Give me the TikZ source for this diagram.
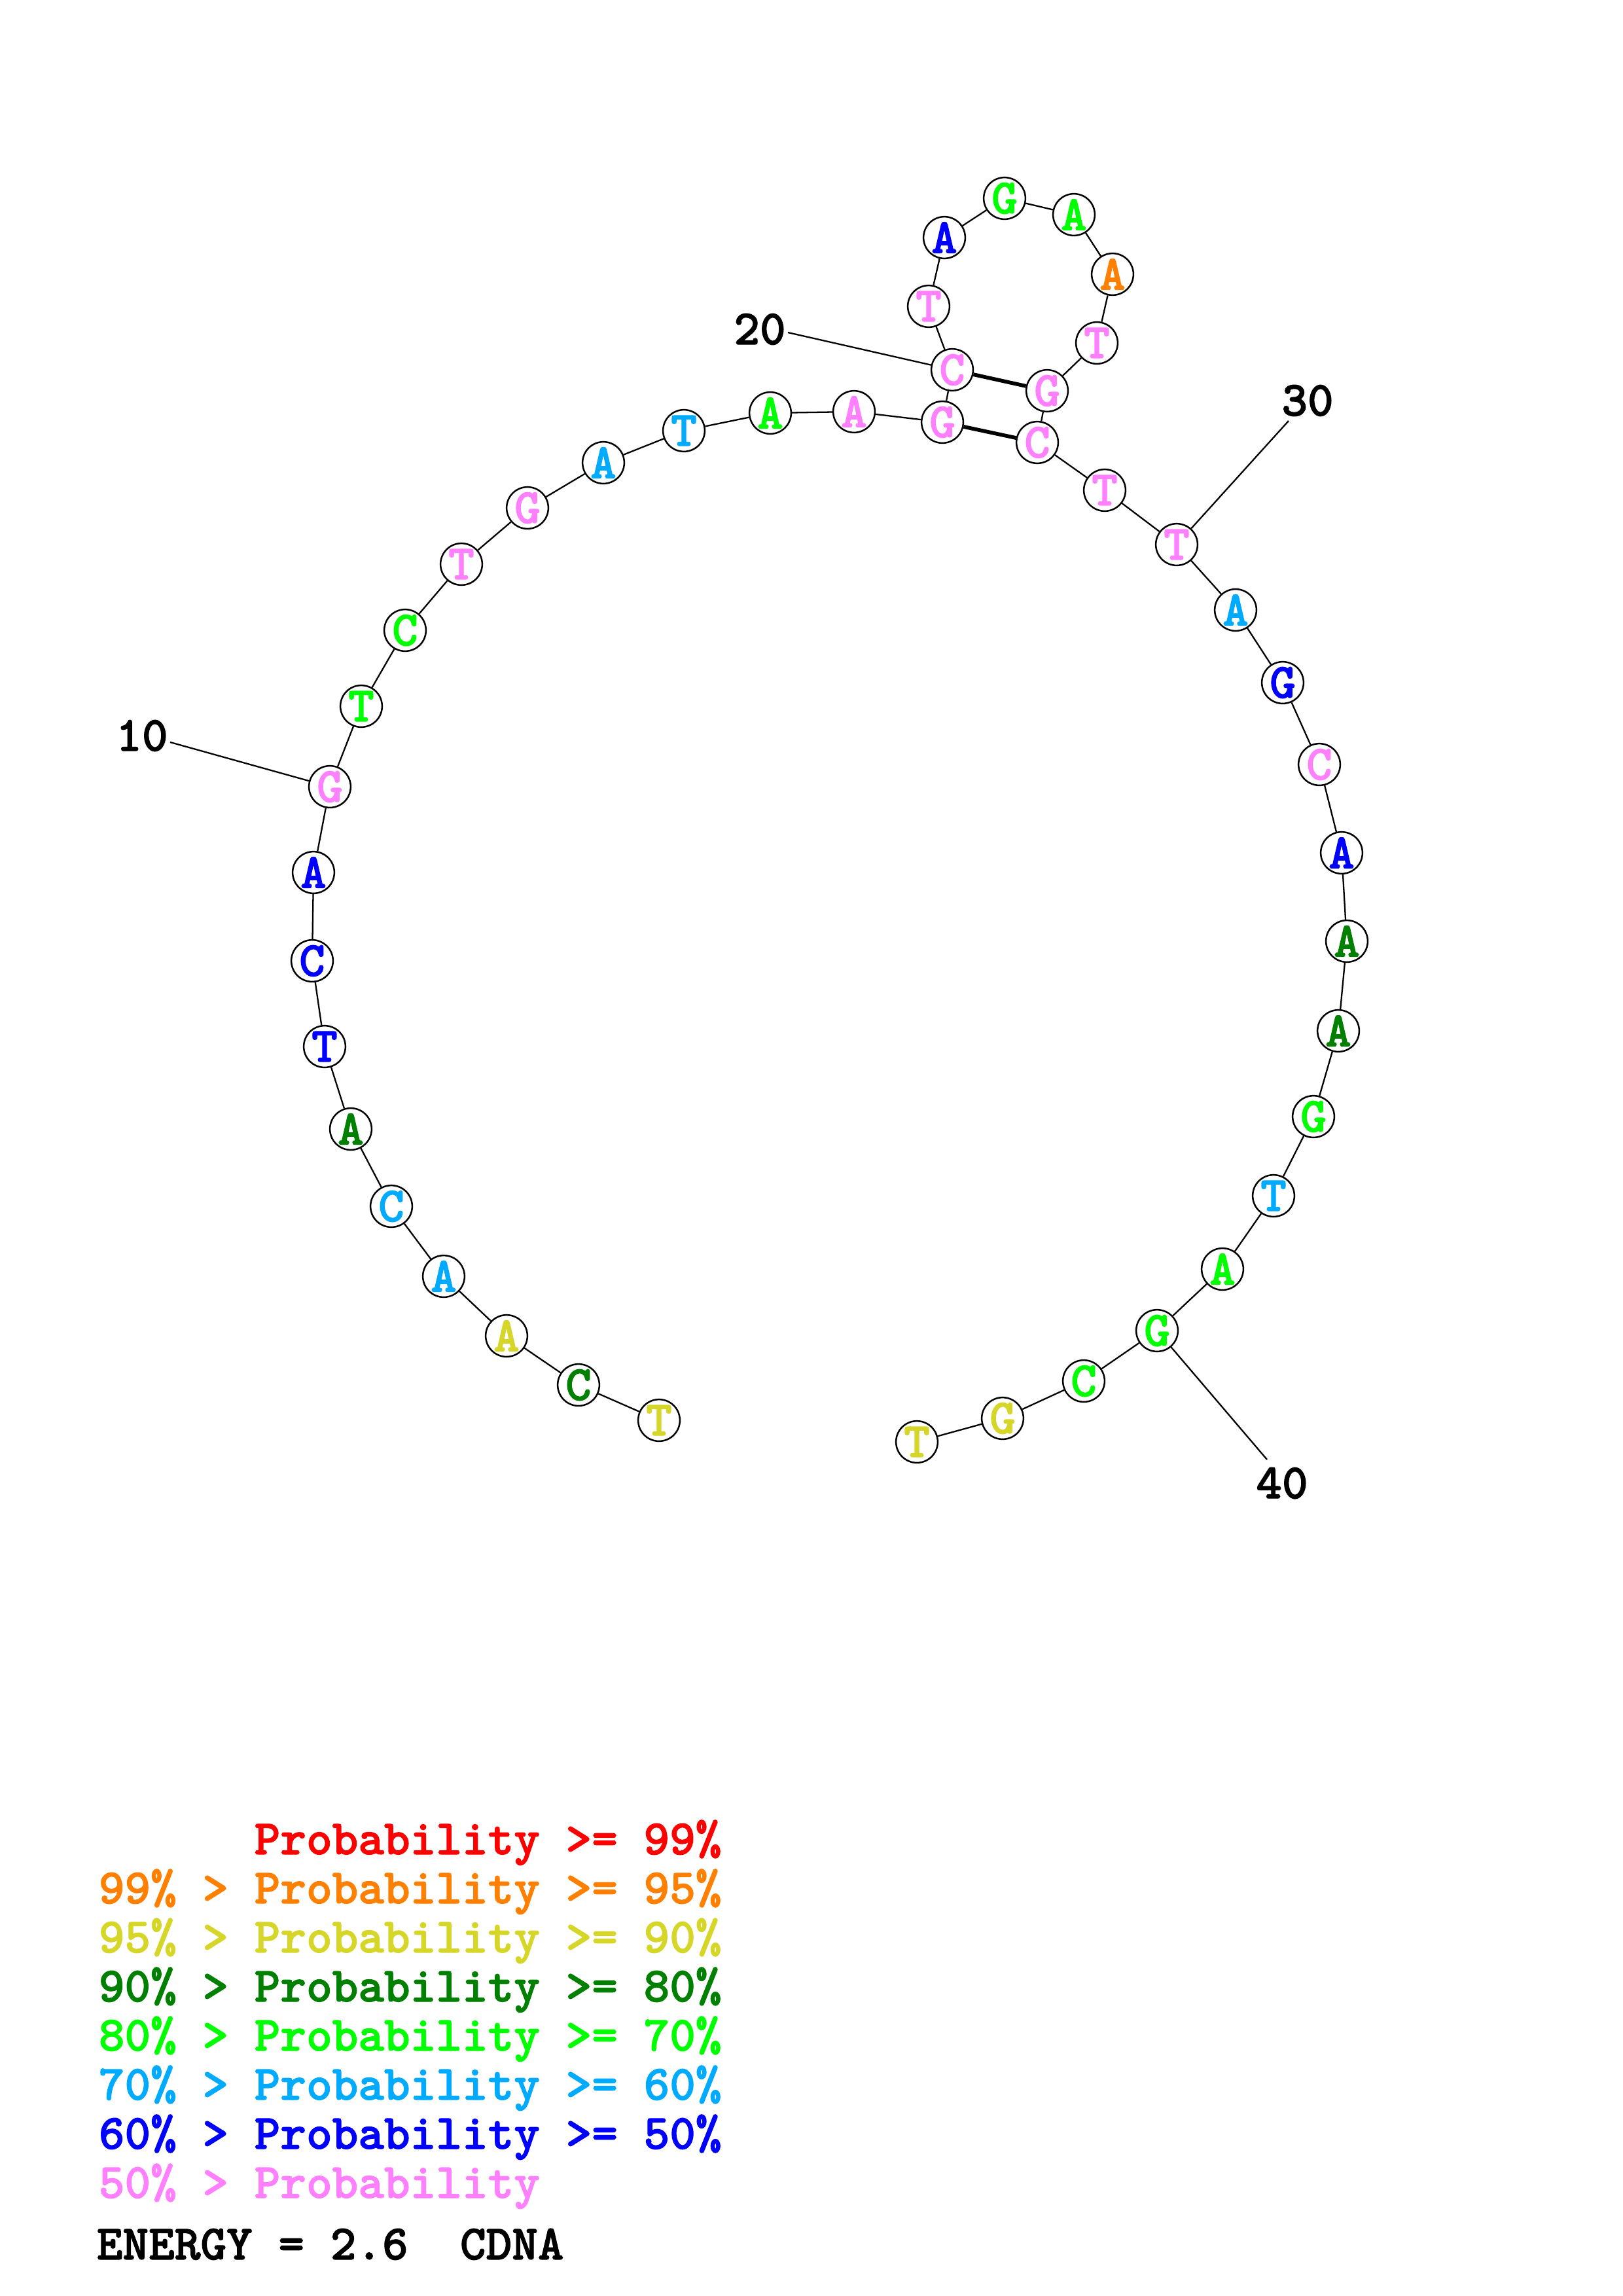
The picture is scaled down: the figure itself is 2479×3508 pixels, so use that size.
\documentclass[tikz,border=0pt]{standalone}
\usepackage{fontspec}
\newfontfamily\cour{lmmonolt10-bold}[Extension=.otf,FakeBold=1.5]
\definecolor{cred}{RGB}{255,0,0}
\definecolor{corange}{RGB}{255,128,0}
\definecolor{cyellow}{RGB}{214,214,41}
\definecolor{cdgreen}{RGB}{0,128,0}
\definecolor{cgreen}{RGB}{0,255,0}
\definecolor{clblue}{RGB}{0,170,255}
\definecolor{cblue}{RGB}{0,0,255}
\definecolor{cpink}{RGB}{255,128,255}
\begin{document}
\begin{tikzpicture}[x=0.008471cm,y=-0.008471cm,
  nt/.style={circle,draw=black,fill=white,line width=0.6pt,minimum size=0.54cm,inner sep=0pt,
    font=\cour\fontsize{18.2}{20}\selectfont},
  bb/.style={line width=0.55pt},
  bond/.style={line width=1.4pt},
  numlab/.style={font=\cour\fontsize{18.2}{20}\selectfont,inner sep=0pt},
  leg/.style={anchor=base west,inner sep=0pt,font=\cour\fontsize{18.2}{20}\selectfont}]
\useasboundingbox (0,0) rectangle (2479,3508);
\foreach \i/\x/\y/\b/\c in {
 1/1007/2170/T/cyellow, 2/884/2116/C/cdgreen, 3/774/2041/A/cyellow, 4/678/1950/A/clblue,
 5/598/1843/C/clblue, 6/536/1725/A/cdgreen, 7/496/1599/T/cblue, 8/477/1468/C/cblue,
 9/479/1333/A/cblue, 10/504/1202/G/cpink, 11/552/1079/T/cgreen, 12/619/963/C/cgreen,
 13/705/862/T/cpink, 14/806/776/G/cpink, 15/922/707/A/clblue, 16/1045/658/T/clblue,
 17/1177/631/A/cgreen, 18/1305/629/A/cpink, 19/1440/645/G/cpink, 20/1455/565/C/cpink,
 21/1419/468/T/cpink, 22/1443/363/A/cblue, 23/1535/303/G/cgreen, 24/1641/328/A/cgreen,
 25/1700/419/A/corange, 26/1676/524/T/cpink, 27/1600/597/G/cpink, 28/1585/676/C/cpink,
 29/1688/749/T/cpink, 30/1798/832/T/cpink, 31/1888/932/A/clblue, 32/1960/1043/G/cblue,
 33/2016/1168/C/cpink, 34/2050/1303/A/cblue, 35/2058/1438/A/cdgreen, 36/2045/1575/A/cdgreen,
 37/2007/1706/G/cgreen, 38/1946/1827/T/clblue, 39/1868/1939/A/cgreen, 40/1768/2033/G/cgreen,
 41/1656/2110/C/cgreen, 42/1532/2167/G/cyellow, 43/1401/2203/T/cyellow}
 \node[nt,text=\c] (n\i) at (\x,\y) {\b};
\foreach \i [evaluate=\i as \j using int(\i+1)] in {1,...,42}
 \draw[bb] (n\i) -- (n\j);
\draw[bond] (n20) -- (n27);
\draw[bond] (n19) -- (n28);
% position labels
\node[numlab] (l10) at (217,1124) {10};
\node[numlab] (l20) at (1161,503) {20};
\node[numlab] (l30) at (1998,612) {30};
\node[numlab] (l40) at (1959,2266) {40};
\coordinate (t10) at (260,1134);
\coordinate (t20) at (1204,508);
\coordinate (t30) at (1969,643);
\coordinate (t40) at (1936,2230);
\draw[bb] (t10) -- (n10);
\draw[bb] (t20) -- (n20);
\draw[bb] (t30) -- (n30);
\draw[bb] (t40) -- (n40);
% legend
\node[leg,text=cred] (g1) at (150,2833) {\phantom{99\% > }Probability >= 99\%};
\node[leg,text=corange] (g2) at (150,2908) {99\% > Probability >= 95\%};
\node[leg,text=cyellow] (g3) at (150,2983) {95\% > Probability >= 90\%};
\node[leg,text=cdgreen] (g4) at (150,3058) {90\% > Probability >= 80\%};
\node[leg,text=cgreen] (g5) at (150,3133) {80\% > Probability >= 70\%};
\node[leg,text=clblue] (g6) at (150,3208) {70\% > Probability >= 60\%};
\node[leg,text=cblue] (g7) at (150,3283) {60\% > Probability >= 50\%};
\node[leg,text=cpink] (g8) at (150,3358) {50\% > Probability};
\node[leg,text=black] (en) at (147,3452) {ENERGY = 2.6\ \ CDNA};
\end{tikzpicture}
\end{document}
